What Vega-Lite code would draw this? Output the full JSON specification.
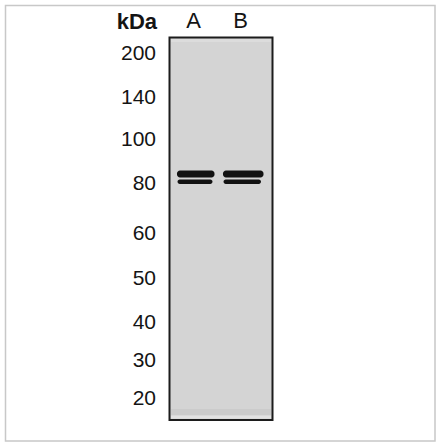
{
  "$schema": "https://vega.github.io/schema/vega-lite/v6.json",
  "width": 436,
  "height": 442,
  "autosize": "none",
  "padding": 0,
  "background": "white",
  "config": {"view": {"stroke": null}, "axis": {"disable": true}},
  "datasets": {
    "frame": [{"x": 5.5, "x2": 435, "y": 5.5, "y2": 441}],
    "gel": [{"x": 169.5, "x2": 272.5, "y": 37.5, "y2": 420}],
    "strips": [
      {"x": 171, "x2": 271, "y": 39, "y2": 42, "shade": "top"},
      {"x": 171, "x2": 271, "y": 409, "y2": 415.5, "shade": "bottom"},
      {"x": 171, "x2": 271, "y": 415.5, "y2": 418.5, "shade": "edge"}
    ],
    "bands": [
      {"lane": "A", "band": "upper", "x": 177, "x2": 214.5, "y": 170.5, "y2": 177.5},
      {"lane": "A", "band": "lower", "x": 177.5, "x2": 212.5, "y": 179.5, "y2": 184},
      {"lane": "B", "band": "upper", "x": 223, "x2": 263.5, "y": 170.5, "y2": 177.5},
      {"lane": "B", "band": "lower", "x": 223.5, "x2": 261, "y": 179.5, "y2": 184}
    ],
    "markers": [
      {"kDa": "200", "x": 156, "y": 54},
      {"kDa": "140", "x": 156, "y": 97.5},
      {"kDa": "100", "x": 156, "y": 140},
      {"kDa": "80", "x": 156, "y": 184},
      {"kDa": "60", "x": 156, "y": 233.5},
      {"kDa": "50", "x": 156, "y": 278.5},
      {"kDa": "40", "x": 156, "y": 322.5},
      {"kDa": "30", "x": 156, "y": 360.5},
      {"kDa": "20", "x": 156, "y": 399}
    ],
    "lanes": [
      {"label": "A", "x": 193.5, "y": 21},
      {"label": "B", "x": 240.5, "y": 21}
    ],
    "unit": [{"label": "kDa", "x": 157, "y": 21.5}]
  },
  "layer": [
    {
      "data": {"name": "frame"},
      "mark": {"type": "rect", "fill": "white", "stroke": "#c8c8c8", "strokeWidth": 1.5},
      "encoding": {
        "x": {"field": "x", "type": "quantitative", "scale": {"domain": [0, 436], "nice": false, "zero": false}},
        "x2": {"field": "x2"},
        "y": {"field": "y", "type": "quantitative", "scale": {"domain": [0, 442], "nice": false, "zero": false, "reverse": true}},
        "y2": {"field": "y2"}
      }
    },
    {
      "data": {"name": "gel"},
      "mark": {"type": "rect", "fill": "#d4d4d4", "stroke": "#1c1c1c", "strokeWidth": 2},
      "encoding": {
        "x": {"field": "x", "type": "quantitative"},
        "x2": {"field": "x2"},
        "y": {"field": "y", "type": "quantitative"},
        "y2": {"field": "y2"}
      }
    },
    {
      "data": {"name": "strips"},
      "mark": {"type": "rect"},
      "encoding": {
        "x": {"field": "x", "type": "quantitative"},
        "x2": {"field": "x2"},
        "y": {"field": "y", "type": "quantitative"},
        "y2": {"field": "y2"},
        "color": {"field": "shade", "type": "nominal", "legend": null,
          "scale": {"domain": ["top", "bottom", "edge"], "range": ["#dcdcdc", "#cbcbcb", "#e2e2e2"]}}
      }
    },
    {
      "data": {"name": "bands"},
      "mark": {"type": "rect", "fill": "#121212", "cornerRadius": 3},
      "encoding": {
        "x": {"field": "x", "type": "quantitative"},
        "x2": {"field": "x2"},
        "y": {"field": "y", "type": "quantitative"},
        "y2": {"field": "y2"}
      }
    },
    {
      "data": {"name": "markers"},
      "mark": {"type": "text", "font": "Liberation Sans", "fontSize": 21, "align": "right", "baseline": "middle", "color": "#141414"},
      "encoding": {
        "x": {"field": "x", "type": "quantitative"},
        "y": {"field": "y", "type": "quantitative"},
        "text": {"field": "kDa"}
      }
    },
    {
      "data": {"name": "lanes"},
      "mark": {"type": "text", "font": "Liberation Sans", "fontSize": 22, "align": "center", "baseline": "middle", "color": "#141414"},
      "encoding": {
        "x": {"field": "x", "type": "quantitative"},
        "y": {"field": "y", "type": "quantitative"},
        "text": {"field": "label"}
      }
    },
    {
      "data": {"name": "unit"},
      "mark": {"type": "text", "font": "Liberation Sans", "fontSize": 22, "fontWeight": "bold", "align": "right", "baseline": "middle", "color": "#141414"},
      "encoding": {
        "x": {"field": "x", "type": "quantitative"},
        "y": {"field": "y", "type": "quantitative"},
        "text": {"field": "label"}
      }
    }
  ]
}
